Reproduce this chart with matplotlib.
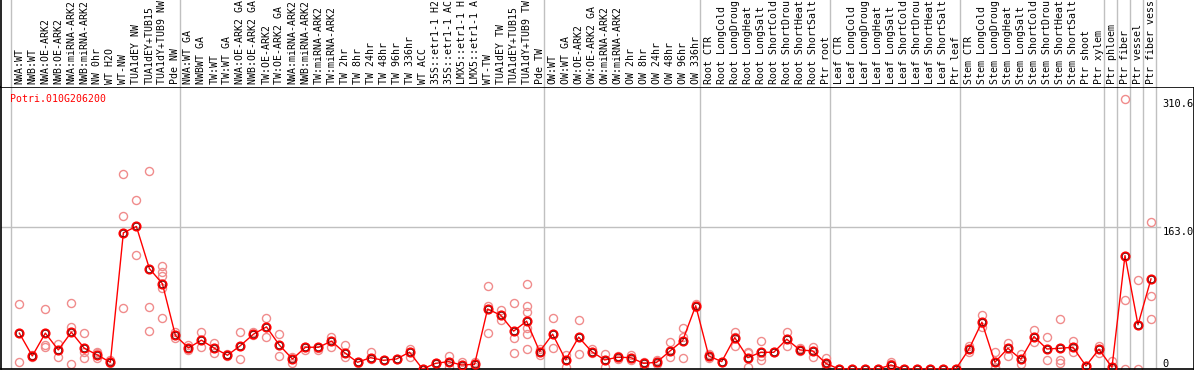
"""Expression profile of Potri.010G206200 across samples (mean + replicates)."""

import matplotlib
matplotlib.use("Agg")
import matplotlib.pyplot as plt
from matplotlib.transforms import blended_transform_factory

GENE = "Potri.010G206200"

samples = [
    "NWA:WT", "NWB:WT", "NWA:OE-ARK2", "NWB:OE-ARK2", "NWA:miRNA-ARK2",
    "NWB:miRNA-ARK2", "NW 0hr", "WT H2O", "WT-NW", "TUA1dEY NW",
    "TUA1dEY+TUB15", "TUA1dY+TUB9 NW", "Pde NW",
    "NWA:WT GA", "NWBWT GA", "TW:WT", "TW:WT GA", "NWA:OE-ARK2 GA",
    "NWB:OE-ARK2 GA", "TW:OE-ARK2", "TW:OE-ARK2 GA", "NWA:miRNA-ARK2",
    "NWB:miRNA-ARK2", "TW:miRNA-ARK2", "TW:miRNA-ARK2", "TW 2hr", "TW 8hr",
    "TW 24hr", "TW 48hr", "TW 96hr", "TW 336hr", "WT ACC", "35S::etr1-1 H2",
    "35S::etr1-1 AC", "LMX5::etr1-1 H", "LMX5::etr1-1 A", "WT-TW",
    "TUA1dEY TW", "TUA1dEY+TUB15", "TUA1dY+TUB9 TW", "Pde TW",
    "OW:WT", "OW:WT GA", "OW:OE-ARK2", "OW:OE-ARK2 GA", "OW:miRNA-ARK2",
    "OW:miRNA-ARK2", "OW 2hr", "OW 8hr", "OW 24hr", "OW 48hr", "OW 96hr",
    "OW 336hr",
    "Root CTR", "Root LongCold", "Root LongDroug", "Root LongHeat",
    "Root LongSalt", "Root ShortCold", "Root ShortDrou", "Root ShortHeat",
    "Root ShortSalt", "Ptr root",
    "Leaf CTR", "Leaf LongCold", "Leaf LongDroug", "Leaf LongHeat",
    "Leaf LongSalt", "Leaf ShortCold", "Leaf ShortDrou", "Leaf ShortHeat",
    "Leaf ShortSalt", "Ptr leaf",
    "Stem CTR", "Stem LongCold", "Stem LongDroug", "Stem LongHeat",
    "Stem LongSalt", "Stem ShortCold", "Stem ShortDrou", "Stem ShortHeat",
    "Stem ShortSalt", "Ptr shoot", "Ptr xylem",
    "Ptr phloem", "Ptr fiber", "Ptr vessel", "Ptr fiber vess",
]

means = [
    41.2, 15, 41.2, 21.9, 42.3, 23.8, 16.1, 7.7, 156.5, 163.8, 115.4, 98, 38.5,
    24.2, 33.1, 23.8, 15.8, 26.9, 40, 48.4, 27.3, 11.5, 25, 25, 32, 18.8, 7.7,
    13, 10, 11.5, 19.3, 0, 6.5, 8.5, 4.6, 5.4, 68.9, 61.9, 43.5, 55, 20,
    40, 10.4, 36.6, 20, 10.4, 13.5, 13.1, 6.5, 7.7, 20.4, 32.7, 72.7,
    15, 8.5, 36.1, 13.1, 19.2, 19.2, 34.2, 21.9, 20.8, 6.5,
    0, 0, 0, 0, 4.6, 0, 0, 0, 0, 0,
    22.7, 53.8, 7.7, 23.8, 11.2, 37.3, 23, 23.8, 25, 3.5, 22.7,
    1.9, 130.3, 50.8, 103.5,
]

replicates = [
    [74.6, 7.7], [16, 14], [69.2, 27.7, 25.7], [28.8, 14.2], [75.8, 48.1, 5.4],
    [41.2, 19.3, 12.3], [20, 18, 12.3], [10.4, 6.5], [224.6, 176.1, 70],
    [194.6, 131.2], [228, 71.2, 43.8], [118, 111.1, 106.5, 93, 58.5], [43, 35.4],
    [27.7, 21.9], [43, 25], [30.3, 18], [17, 15], [42.3, 11.5], [43, 39.2],
    [58.5, 37.3], [40, 15], [14.2, 7.3], [25, 22], [24, 22], [37.3, 25.7],
    [27.7, 14.2], [8, 6.5], [20, 11.2], [10], [12], [22.7, 14.2], [0],
    [6.5, 6], [15.4, 2.7], [8.4, 2.7], [8.5, 2.7], [95.7, 72.7, 41.2],
    [67.3, 56.5], [75.8, 35.4, 18], [98, 72.7, 65, 47, 40.4, 22.7], [22.7, 16.1],
    [58.5, 23.8], [16.1, 2.7], [56.5, 17], [23, 18], [17, 2.7], [15.4, 11],
    [16, 10], [8, 4], [10, 5.8], [30.8, 14.2], [47, 37.3, 12.3], [75, 71],
    [17, 13], [8.5], [42.3, 37.3, 26.5], [20, 18, 2.7], [32.3, 15, 10.4], [19],
    [42.3, 26.5], [23.8, 20.8], [25.7, 14.2], [13.1, 4.6, 1.5],
    [0], [0], [0], [0], [8.4, 6, 0], [0], [0], [0], [0], [0],
    [26.5, 20], [62.3, 52.7, 47.7], [19.2, 2.7, 1], [29.6, 15], [17.3, 5.8],
    [45, 31.5], [36.6, 10.4], [57.7, 10.4, 6.5], [32.7, 19.2], [3.5], [26.5, 18],
    [9.6, 0, 0], [310.6, 79.6, 0], [101.9, 0], [169.2, 84.2, 57.3],
]

# first sample index of each block (the last entry closes the final block)
group_starts = [0, 13, 41, 53, 63, 73, 84, 85, 86, 87, 88]
ref_value = 163.0
y_ticks = [310.6, 163.0, 0]

MONO = "DejaVu Sans Mono"
GRID = "#c0c0c0"

W, H = 1194, 370
fig = plt.figure(figsize=(W / 100, H / 100), dpi=100)
ax = fig.add_axes([1 / W, 1 / H, (W - 1.5) / W, 282 / H])
lab = fig.add_axes([1 / W, 283 / H, (W - 1.5) / W, 87 / H], sharex=ax)

x = list(range(len(samples)))
ax.set_xlim(-1.407, -1.407 + (W - 1.5) / 13.008)
ax.set_ylim(0, 324)

for a in (ax, lab):
    for g in group_starts:
        a.axvline(g - 0.65, color=GRID, lw=1, zorder=0)
    a.set_xticks([])
    a.set_yticks([])
    for s in ("left", "top", "bottom", "right"):
        a.spines[s].set_color("black")
        a.spines[s].set_linewidth(1.2)
lab.spines["top"].set_visible(False)
lab.spines["bottom"].set_visible(False)
lab.spines["right"].set_visible(False)
lab.set_ylim(0, 1)

ax.axhline(ref_value, xmax=0.9715, color=GRID, lw=1, zorder=0)

for i, reps in enumerate(replicates):
    ax.plot([i] * len(reps), reps, "o", ms=5.8, mfc="none", mec="#f08c8c",
            mew=1.0, zorder=2)
ax.plot(x, means, "-", color="red", lw=1, zorder=3)
ax.plot(x, means, "o", ms=6, mfc="none", mec="red", mew=1.3, zorder=4)
ax.plot(x, means, "o", ms=4.6, mfc="none", mec="#5a0000", mew=0.5, zorder=5)

for i, name in enumerate(samples):
    lab.text(i, 0.035, name, rotation=90, ha="center", va="bottom",
             family=MONO, fontsize=7.1, color="black")

ax.text(9 / (W - 1), 0.975, GENE, transform=ax.transAxes, ha="left",
        va="top", family=MONO, fontsize=7.1, color="red")

tr = blended_transform_factory(ax.transAxes, ax.transData)
for v in y_ticks:
    ax.text(0.974, v, f"{v:.1f}" if v else "0", transform=tr, ha="left",
            va="bottom" if v == 0 else "top", family=MONO, fontsize=7.5,
            color="black", clip_on=True)

fig.savefig("out.png", dpi=100)
